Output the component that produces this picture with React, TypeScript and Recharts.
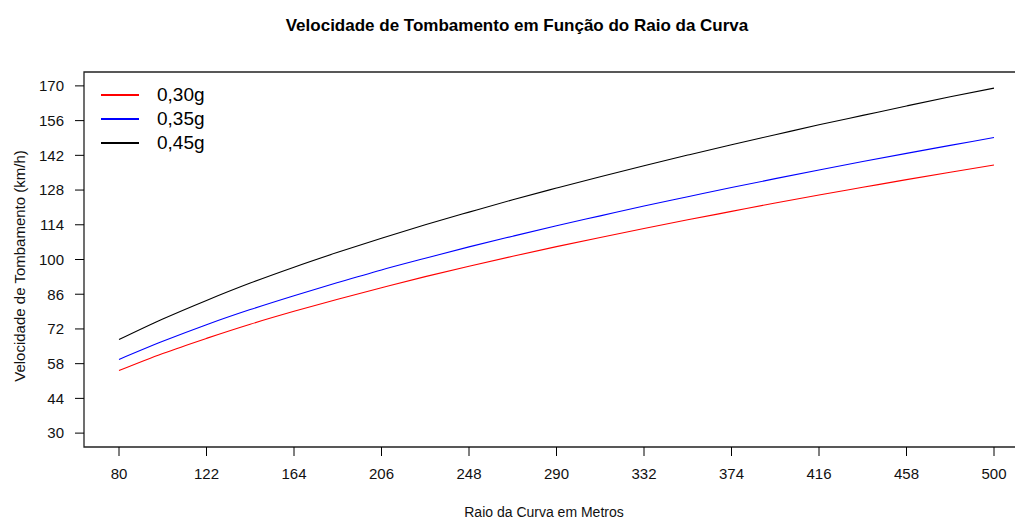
import { LineChart, Line, XAxis, YAxis, ReferenceArea } from 'recharts';

// Raio da curva (m)
const raios = [80, 101, 122, 143, 164, 185, 206, 227, 248, 269, 290, 311, 332, 353, 374, 395, 416, 437, 458, 479, 500];

// Velocidade de tombamento (km/h)
const v030 = [55.2, 62.1, 68.2, 73.9, 79.1, 84.0, 88.6, 93.1, 97.3, 101.3, 105.2, 108.9, 112.5, 116.0, 119.4, 122.8, 126.0, 129.1, 132.2, 135.2, 138.1];
const v035 = [59.7, 67.0, 73.7, 79.8, 85.4, 90.7, 95.8, 100.5, 105.1, 109.4, 113.6, 117.6, 121.6, 125.3, 129.0, 132.6, 136.1, 139.5, 142.8, 146.0, 149.2];
const v045 = [67.7, 76.0, 83.5, 90.5, 96.9, 102.9, 108.6, 114.0, 119.1, 124.1, 128.8, 133.4, 137.8, 142.1, 146.3, 150.3, 154.3, 158.1, 161.9, 165.6, 169.1];

const xTicks = [80, 122, 164, 206, 248, 290, 332, 374, 416, 458, 500];
const yTicks = [30, 44, 58, 72, 86, 100, 114, 128, 142, 156, 170];

const series = [
  { key: 'v030', label: '0,30g', color: '#ff0000' },
  { key: 'v035', label: '0,35g', color: '#0000ff' },
  { key: 'v045', label: '0,45g', color: '#000000' },
];

const data = raios.map((r, i) => ({ raio: r, v030: v030[i], v035: v035[i], v045: v045[i] }));

const font = 'Liberation Sans, Arial, Helvetica, sans-serif';
const xDomain: [number, number] = [63.2, 516.8];
const yDomain: [number, number] = [24.4, 175.6];

export default function App() {
  return (
    <div style={{ position: 'absolute', left: 0, top: 0, width: 1015, height: 523, overflow: 'hidden', background: '#fff', fontFamily: font }}>
      <LineChart width={1030} height={523} data={data} margin={{ top: 72, right: 1, bottom: 0, left: 0 }}>
        <XAxis
          dataKey="raio"
          type="number"
          domain={xDomain}
          ticks={xTicks}
          allowDataOverflow
          axisLine={false}
          tickSize={9}
          tickMargin={12}
          tickLine={{ stroke: '#000' }}
          tick={{ fill: '#111', fontSize: 15, fontFamily: font }}
          height={76}
        />
        <YAxis
          type="number"
          domain={yDomain}
          ticks={yTicks}
          allowDataOverflow
          axisLine={false}
          width={84}
          tickSize={9}
          tickMargin={11}
          tickLine={{ stroke: '#000' }}
          tick={{ fill: '#111', fontSize: 15, fontFamily: font }}
        />
        <ReferenceArea x1={xDomain[0]} x2={xDomain[1]} y1={yDomain[0]} y2={yDomain[1]} fill="none" stroke="#222" strokeWidth={1.3} fillOpacity={0} />
        {series.map((s) => (
          <Line key={s.key} dataKey={s.key} type="monotone" stroke={s.color} strokeWidth={1.1} dot={false} isAnimationActive={false} />
        ))}
      </LineChart>

      <div style={{ position: 'absolute', left: 0, width: 1034, top: 16, textAlign: 'center', fontSize: 17, fontWeight: 'bold', color: '#000' }}>
        Velocidade de Tombamento em Função do Raio da Curva
      </div>
      <div style={{ position: 'absolute', left: 0, width: 1088, top: 504, textAlign: 'center', fontSize: 14, color: '#111' }}>
        Raio da Curva em Metros
      </div>
      <div style={{ position: 'absolute', left: 19, top: 266, width: 0, height: 0 }}>
        <div style={{ position: 'absolute', transform: 'translate(-50%, -50%) rotate(-90deg)', whiteSpace: 'nowrap', fontSize: 15, color: '#111' }}>
          Velocidade de Tombamento (km/h)
        </div>
      </div>

      {series.map((s, i) => (
        <div key={s.key} style={{ position: 'absolute', left: 101, top: 95 + i * 24 - 12, height: 24, display: 'flex', alignItems: 'center' }}>
          <div style={{ width: 38, height: 2, background: s.color }} />
          <span style={{ marginLeft: 18, fontSize: 19, color: '#000', lineHeight: '24px' }}>{s.label}</span>
        </div>
      ))}
    </div>
  );
}
